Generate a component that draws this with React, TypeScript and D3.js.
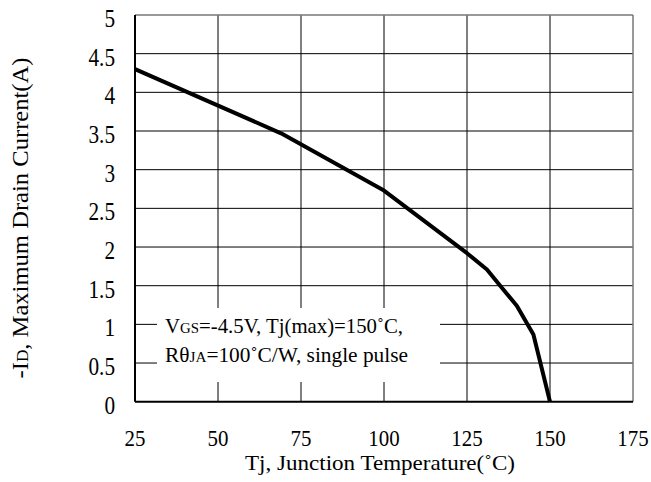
import React from "react";
import * as d3 from "d3";

const temps = [25, 69, 100, 125, 131, 135, 140, 145, 150];
const current = [4.3, 3.47, 2.73, 1.92, 1.71, 1.5, 1.24, 0.87, 0];
const xTicks = [25, 50, 75, 100, 125, 150, 175];
const yTicks = [0, 0.5, 1, 1.5, 2, 2.5, 3, 3.5, 4, 4.5, 5];

const W = 651, H = 482;
const L = 135, R = 633, T = 15, B = 401.7;
const FONT = "'Liberation Serif', 'DejaVu Serif', serif";

export default function App() {
  const x = d3.scaleLinear().domain([25, 175]).range([L, R]);
  const y = d3.scaleLinear().domain([0, 5]).range([B, T]);
  const pts = temps.map((t, i) => [t, current[i]] as [number, number]);
  const line = d3.line<[number, number]>().x(d => x(d[0])).y(d => y(d[1]));

  return (
    <svg width={W} height={H} style={{ position: "absolute", left: 0, top: 0, background: "#fff" }} fontFamily={FONT}>
      <rect width={W} height={H} fill="#fff" />
      {yTicks.filter(v => v > 0 && v < 5).map(v => (
        <line key={"h" + v} x1={L} x2={R} y1={y(v)} y2={y(v)} stroke="#000" strokeWidth={1} />
      ))}
      {xTicks.filter(v => v > 25 && v < 175).map(v => (
        <line key={"v" + v} x1={x(v)} x2={x(v)} y1={T} y2={B} stroke="#000" strokeWidth={1} />
      ))}
      <line x1={L} x2={R} y1={T} y2={T} stroke="#777" strokeWidth={1.5} />
      <line x1={R} x2={R} y1={T} y2={B} stroke="#777" strokeWidth={1.5} />
      <line x1={L} x2={L} y1={T} y2={B} stroke="#000" strokeWidth={2} />
      <line x1={L} x2={R} y1={B} y2={B} stroke="#000" strokeWidth={2} />
      <rect x={157} y={308} width={283} height={74} fill="#fff" />
      <text x={165} y={333} fontSize={21} fill="#000" textLength={238} lengthAdjust="spacingAndGlyphs">
        V<tspan fontSize={15}>GS</tspan>=-4.5V, Tj(max)=150˚C,
      </text>
      <text x={165} y={362} fontSize={21} fill="#000" textLength={243} lengthAdjust="spacingAndGlyphs">
        Rθ<tspan fontSize={15}>JA</tspan>=100˚C/W, single pulse
      </text>
      <path d={line(pts) || ""} fill="none" stroke="#000" strokeWidth={4} strokeLinejoin="round" />
      {yTicks.map(v => (
        <text key={"yl" + v} transform={`translate(115, ${y(v) + 12}) scale(0.85, 1)`} fontSize={25} textAnchor="end" fill="#000">{v}</text>
      ))}
      {xTicks.map(v => (
        <text key={"xl" + v} transform={`translate(${x(v)}, 446) scale(0.87, 1)`} fontSize={24} textAnchor="middle" fill="#000">{v}</text>
      ))}
      <text x={380} y={470} fontSize={21} textAnchor="middle" fill="#000" textLength={270} lengthAdjust="spacingAndGlyphs">Tj, Junction Temperature(˚C)</text>
      <text transform={`translate(28, 218) rotate(-90)`} fontSize={23} textAnchor="middle" fill="#000" textLength={321} lengthAdjust="spacingAndGlyphs">
        -I<tspan fontSize={16}>D</tspan>, Maximum Drain Current(A)
      </text>
    </svg>
  );
}
